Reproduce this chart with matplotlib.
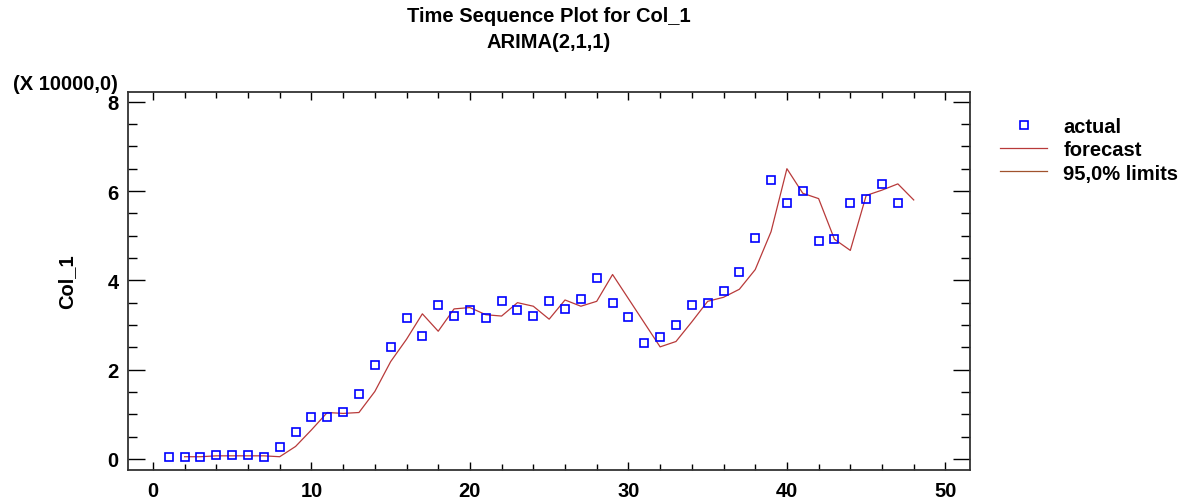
import numpy as np
import matplotlib
matplotlib.use('Agg')
import matplotlib.pyplot as plt
from matplotlib.ticker import MultipleLocator
# Necessary imports

plt.rcParams['font.family'] = ['Liberation Sans', 'DejaVu Sans']
plt.rcParams['font.weight'] = 'bold'

# actual series (in units of 10000), periods 1..47
periods = np.arange(1, 48)
actual = [0.05, 0.05, 0.05, 0.08, 0.08, 0.08, 0.05, 0.27, 0.60, 0.95,
          0.95, 1.06, 1.45, 2.11, 2.51, 3.15, 2.76, 3.45, 3.20, 3.33,
          3.15, 3.53, 3.33, 3.20, 3.53, 3.36, 3.58, 4.05, 3.50, 3.17,
          2.60, 2.73, 3.01, 3.45, 3.50, 3.77, 4.18, 4.95, 6.24, 5.74,
          5.99, 4.87, 4.93, 5.74, 5.83, 6.15, 5.74]

# one-step forecasts, periods 2..48
fc_periods = np.arange(2, 49)
forecast = [0.05, 0.05, 0.07, 0.07, 0.07, 0.07, 0.05, 0.28, 0.65, 1.04,
            1.02, 1.04, 1.51, 2.18, 2.68, 3.25, 2.86, 3.36, 3.39, 3.23,
            3.20, 3.50, 3.42, 3.13, 3.56, 3.42, 3.53, 4.13, 3.59, 3.05,
            2.51, 2.63, 3.07, 3.53, 3.62, 3.80, 4.24, 5.09, 6.50, 5.95,
            5.83, 4.92, 4.67, 5.90, 6.02, 6.16, 5.80]

fs = 14.5
# Font size used for all text

fig = plt.figure(figsize=(11.95, 5.02), dpi=100)
ax = fig.add_axes([0.1074, 0.0624, 0.7043, 0.7517])
# Axes placed to match the frame of the original

ax.plot(fc_periods, forecast, color='#b83a3a', lw=0.9, label='forecast')
ax.plot([], [], color='#a0522d', lw=0.9, label='95,0% limits')
ax.plot(periods, actual, ls='none', marker='s', ms=5.3, mfc='none',
        mec='#0000ff', mew=1.2, label='actual')
# Forecast line, empty limits entry and actual points

ax.set_xlim(-1.55, 51.55)
ax.set_ylim(-0.24, 8.21)
ax.xaxis.set_major_locator(MultipleLocator(10))
ax.xaxis.set_minor_locator(MultipleLocator(2))
ax.yaxis.set_major_locator(MultipleLocator(2))
ax.yaxis.set_minor_locator(MultipleLocator(0.5))
ax.tick_params(axis='x', which='major', direction='in', length=6, width=1,
               top=True, labelsize=fs, pad=8.5)
ax.tick_params(axis='x', which='minor', direction='in', length=4, width=1, top=True)
ax.tick_params(axis='y', which='major', direction='in', length=12, width=1,
               right=True, labelsize=fs, pad=7)
ax.tick_params(axis='y', which='minor', direction='in', length=6.5, width=1, right=True)
for s in ax.spines.values():
    s.set_linewidth(1.3)
    s.set_color('#333333')
# Inward ticks on all four sides

ax.set_ylabel('Col_1', fontsize=fs, fontweight='bold')
ax.yaxis.set_label_coords(-0.0621, 0.5)
fig.text(118 / 1195, 1 - 84 / 502, '(X 10000,0)', ha='right', va='center',
         fontsize=fs, fontweight='bold')
fig.text(0.459, 1 - 17 / 502, 'Time Sequence Plot for Col_1', ha='center',
         va='center', fontsize=fs, fontweight='bold')
fig.text(0.459, 1 - 43 / 502, 'ARIMA(2,1,1)', ha='center', va='center',
         fontsize=fs, fontweight='bold')
# Labels and titles

h, l = ax.get_legend_handles_labels()
order = [2, 0, 1]
fig.legend([h[i] for i in order], [l[i] for i in order], loc='upper left',
           bbox_to_anchor=(0.837, 0.764), frameon=False, fontsize=fs,
           handlelength=2.34, handletextpad=0.8, labelspacing=0.2,
           borderpad=0, borderaxespad=0)
# Legend to the right of the plot

fig.savefig('out.png', dpi=100)
